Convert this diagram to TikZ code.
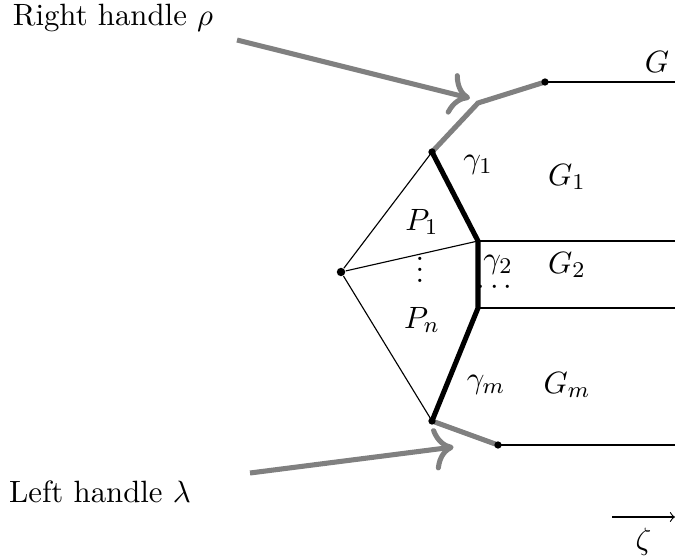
\documentclass[11pt,tikz,border=0pt]{standalone}
\usepackage{amsmath}
\usetikzlibrary{arrows.meta}
\begin{document}
\begin{tikzpicture}[>=to,
    handle/.style={gray, line width=1.8pt},
    curve/.style={line width=1.8pt},
    dot/.style={circle, fill=black, inner sep=0pt, minimum size=3pt}]

        \useasboundingbox (0,0) rectangle (8.4375,6.9875);

        \node[dot] (A)  at (4.2625,3.5875) {};
        \coordinate (T)  at (5.4,5.0875);
        \coordinate (M1) at (5.975,3.975);
        \coordinate (M2) at (5.975,3.1375);
        \coordinate (B)  at (5.4,1.725);
        \coordinate (R1) at (5.975,5.7);
        \coordinate (R2) at (6.8125,5.9625);
        \coordinate (L2) at (6.225,1.425);
        \coordinate (RE) at (8.4375,5.9625);
        \coordinate (E1) at (8.4375,3.975);
        \coordinate (E2) at (8.4375,3.1375);
        \coordinate (LE) at (8.4375,1.425);

        \node (rho) at (1.4125,6.7625) {Right handle $\rho$};
        \node (lam) at (1.25,0.8375) {Left handle $\lambda$};
        \coordinate (rs) at (2.9625,6.4875);
        \coordinate (rt) at (5.875,5.76);
        \coordinate (ls) at (3.125,1.075);
        \coordinate (lt) at (5.67,1.4);

        % fan of polygons
        \draw (A) -- (T);
        \draw (A) -- (M1);
        \draw (A) -- (B);

        % boundary pieces
        \draw[curve] (T) -- (M1) -- (M2) -- (B);
        \draw[handle] (T) -- (R1) -- (R2);
        \draw[handle] (B) -- (L2);
        \fill (R2) circle (1.3pt);
        \fill (L2) circle (1.3pt);
        \fill (T) circle (1.3pt);
        \fill (B) circle (1.3pt);

        \draw (R2) -- (RE);
        \draw (M1) -- (E1);
        \draw (M2) -- (E2);
        \draw (L2) -- (LE);

        \draw[handle,-{Computer Modern Rightarrow[scale=1.3]}] (rs) -- (rt);
        \draw[handle,-{Computer Modern Rightarrow[scale=1.3]}] (ls) -- (lt);

        \node (G)  at (8.2125,6.2125) {$G$};
        \node (g1) at (5.975,4.925) {$\gamma_1$};
        \node (G1) at (7.0875,4.775) {$G_1$};
        \node (P1) at (5.275,4.2125) {$P_1$};
        \node (vd) at (5.25,3.72) {$\vdots$};
        \node (Pn) at (5.275,2.9875) {$P_n$};
        \node (g2) at (6.225,3.675) {$\gamma_2$};
        \node (hd) at (6.2125,3.39) {$\cdots$};
        \node (G2) at (7.0875,3.675) {$G_2$};
        \node (gm) at (6.075,2.175) {$\gamma_m$};
        \node (Gm) at (7.0875,2.175) {$G_m$};

        \coordinate (zs) at (7.65,0.525);
        \coordinate (zt) at (8.4375,0.525);
        \draw[->] (zs) -- node[below] {$\zeta$} (zt);

        \end{tikzpicture}
\end{document}
